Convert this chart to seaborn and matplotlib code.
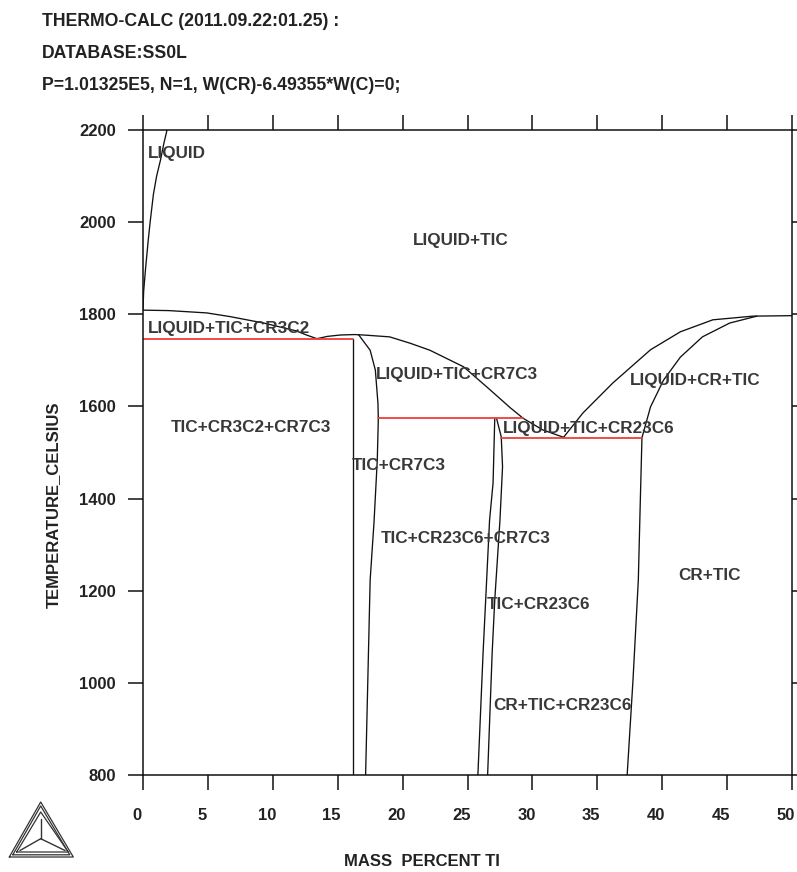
import matplotlib
matplotlib.use("Agg")
import matplotlib.pyplot as plt
import matplotlib.transforms as mtransforms
import seaborn as sns
import pandas as pd

sns.set_theme(style="white")
plt.rcParams["font.family"] = ["Liberation Sans", "DejaVu Sans"]

# ---- phase boundaries: mass percent Ti vs temperature (Celsius) ----
liquid_ti = [0.0, 0.05, 0.2, 0.4, 0.55, 0.8, 1.05, 1.35, 1.6, 1.85]
liquid_t = [1809, 1850, 1900, 1960, 2000, 2060, 2100, 2135, 2170, 2200]

liq_tic_ti = [0.0, 2.0, 4.9, 6.7, 9.3, 11.8, 12.6, 13.4, 14.2, 15.2, 16.3,
              17.0, 19.0, 20.6, 22.1, 24.7, 26.5, 28.3, 29.3, 30.8, 32.4]
liq_tic_t = [1809, 1808, 1803, 1795, 1781, 1764, 1755, 1747, 1752, 1755, 1756,
             1755, 1751, 1737, 1722, 1686, 1642, 1597, 1574, 1549, 1533]

liq_cr_upper_ti = [32.4, 33.9, 36.2, 39.1, 41.4, 43.9, 47.0, 50.0]
liq_cr_upper_t = [1533, 1586, 1651, 1723, 1762, 1788, 1796, 1797]

liq_cr_lower_ti = [38.44, 39.1, 40.1, 41.4, 43.1, 45.2, 47.3]
liq_cr_lower_t = [1532, 1599, 1657, 1707, 1751, 1781, 1796]

cr7c3_ti = [16.6, 17.5, 17.9, 18.1, 18.13, 18.05, 17.8, 17.5, 17.15]
cr7c3_t = [1756, 1722, 1679, 1607, 1574, 1484, 1350, 1223, 800]

cr3c2_ti = [16.15, 16.15]
cr3c2_t = [1746, 800]

cr23c6_left_ti = [27.1, 26.97, 26.7, 26.4, 26.2, 25.8]
cr23c6_left_t = [1574, 1434, 1353, 1180, 1065, 800]

cr23c6_right_ti = [27.24, 27.6, 27.7, 27.5, 27.1, 26.9, 26.55]
cr23c6_right_t = [1574, 1534, 1469, 1353, 1180, 1065, 800]

cr_solvus_ti = [38.44, 38.3, 38.16, 37.75, 37.3]
cr_solvus_t = [1532, 1380, 1223, 1006, 800]

# ---- invariant (three-phase) tie lines ----
tie_start = [0.0, 18.1, 27.6]
tie_end = [16.15, 29.3, 38.44]
tie_temp = [1746, 1574, 1532]

# ---- phase field labels (left edge of each label) ----
field_names = ["LIQUID", "LIQUID+TIC", "LIQUID+TIC+CR3C2", "LIQUID+TIC+CR7C3",
               "LIQUID+CR+TIC", "TIC+CR3C2+CR7C3", "LIQUID+TIC+CR23C6",
               "TIC+CR7C3", "TIC+CR23C6+CR7C3", "CR+TIC", "TIC+CR23C6",
               "CR+TIC+CR23C6"]
field_ti = [0.4, 20.8, 0.4, 17.95, 37.5, 2.1, 27.7, 16.1, 18.3, 41.2, 26.5, 27.0]
field_t = [2150, 1961, 1770, 1670, 1657, 1555, 1553, 1471, 1314, 1234, 1171, 950]

x_ticks = list(range(0, 51, 5))
y_ticks = list(range(800, 2201, 200))

header_lines = ["THERMO-CALC (2011.09.22:01.25) :",
                "DATABASE:SS0L",
                "P=1.01325E5, N=1, W(CR)-6.49355*W(C)=0;"]

# ---- tidy tables for seaborn ----
curves = {
    "liquid": (liquid_ti, liquid_t),
    "liq_tic": (liq_tic_ti, liq_tic_t),
    "liq_cr_upper": (liq_cr_upper_ti, liq_cr_upper_t),
    "liq_cr_lower": (liq_cr_lower_ti, liq_cr_lower_t),
    "cr7c3": (cr7c3_ti, cr7c3_t),
    "cr3c2": (cr3c2_ti, cr3c2_t),
    "cr23c6_left": (cr23c6_left_ti, cr23c6_left_t),
    "cr23c6_right": (cr23c6_right_ti, cr23c6_right_t),
    "cr_solvus": (cr_solvus_ti, cr_solvus_t),
}
rows = []
for name, (xs, ts) in curves.items():
    for x, t in zip(xs, ts):
        rows.append({"curve": name, "ti": x, "temp": t})
boundaries = pd.DataFrame(rows)

tie_rows = []
for i, (a, b, t) in enumerate(zip(tie_start, tie_end, tie_temp)):
    tie_rows.append({"tie": i, "ti": a, "temp": t})
    tie_rows.append({"tie": i, "ti": b, "temp": t})
ties = pd.DataFrame(tie_rows)

W, H = 797, 872
fig = plt.figure(figsize=(W / 100, H / 100), dpi=100)
fig.patch.set_facecolor("white")
ax = fig.add_axes([143 / W, 1 - 775 / H, (792 - 143) / W, (775 - 130) / H])
ax.set_facecolor("white")

sns.lineplot(data=boundaries, x="ti", y="temp", units="curve", estimator=None,
             sort=False, color="#111111", linewidth=0.95, ax=ax, legend=False)
sns.lineplot(data=ties, x="ti", y="temp", units="tie", estimator=None,
             sort=False, color="#f03c3c", linewidth=1.3, ax=ax, legend=False)

ax.set_xlim(0, 50)
ax.set_ylim(800, 2200)
ax.set_xticks(x_ticks)
ax.set_yticks(y_ticks)
ax.set_xticklabels([str(v) for v in x_ticks], fontweight="bold", fontsize=12)
ax.set_yticklabels([str(v) for v in y_ticks], fontweight="bold", fontsize=12)
ax.set_xlabel("")
ax.set_ylabel("")
for s in ax.spines.values():
    s.set_visible(True)
    s.set_color("#111111")
    s.set_linewidth(1.1)
ax.tick_params(axis="both", which="major", direction="out", length=10.5,
               width=1.1, color="#111111", bottom=True, left=True, top=True,
               right=True, labeltop=False, labelright=False, labelcolor="#222222")
ax.tick_params(axis="x", pad=13)
ax.tick_params(axis="y", pad=9)
shift = mtransforms.ScaledTranslation(-6 / 100, 0, fig.dpi_scale_trans)
for lab in ax.get_xticklabels():
    lab.set_transform(lab.get_transform() + shift)

for name, x, t in zip(field_names, field_ti, field_t):
    ax.text(x, t, name, fontsize=12.3, fontweight="bold", ha="left",
            va="center", color="#383838")

for i, line in enumerate(header_lines):
    fig.text(42 / W, 1 - (22 + 31.5 * i) / H, line, fontsize=12.7,
             fontweight="bold", ha="left", va="center", color="#222222")

fig.text(53 / W, 1 - 505 / H, "TEMPERATURE_CELSIUS", rotation=90, fontsize=12,
         fontweight="bold", ha="center", va="center", color="#222222")
fig.text(422 / W, 1 - 861 / H, "MASS  PERCENT TI", fontsize=12,
         fontweight="bold", ha="center", va="center", color="#222222")

# Thermo-Calc emblem in the lower-left corner
logo = fig.add_axes([0, 0, 90 / W, 90 / H])
logo.set_xlim(0, 90)
logo.set_ylim(90, 0)
logo.axis("off")
for d in (0.0, 2.2):
    logo.plot([9.3 + d * 1.6, 40.7, 73.3 - d * 1.6, 9.3 + d * 1.6],
              [75 - d, 20 + d * 1.8, 75 - d, 75 - d], color="#333333", lw=0.9)
logo.plot([16.7, 40.7, 68.3, 16.7], [70, 30, 70, 70], color="#333333", lw=0.9)
cx, cy = 40.7, 56.7
for ex, ey in ((40.7, 36.7), (20.0, 68.5), (65.0, 68.5)):
    logo.plot([cx, ex], [cy, ey], color="#333333", lw=1.0)

fig.savefig("out.png", dpi=100, facecolor="white")
